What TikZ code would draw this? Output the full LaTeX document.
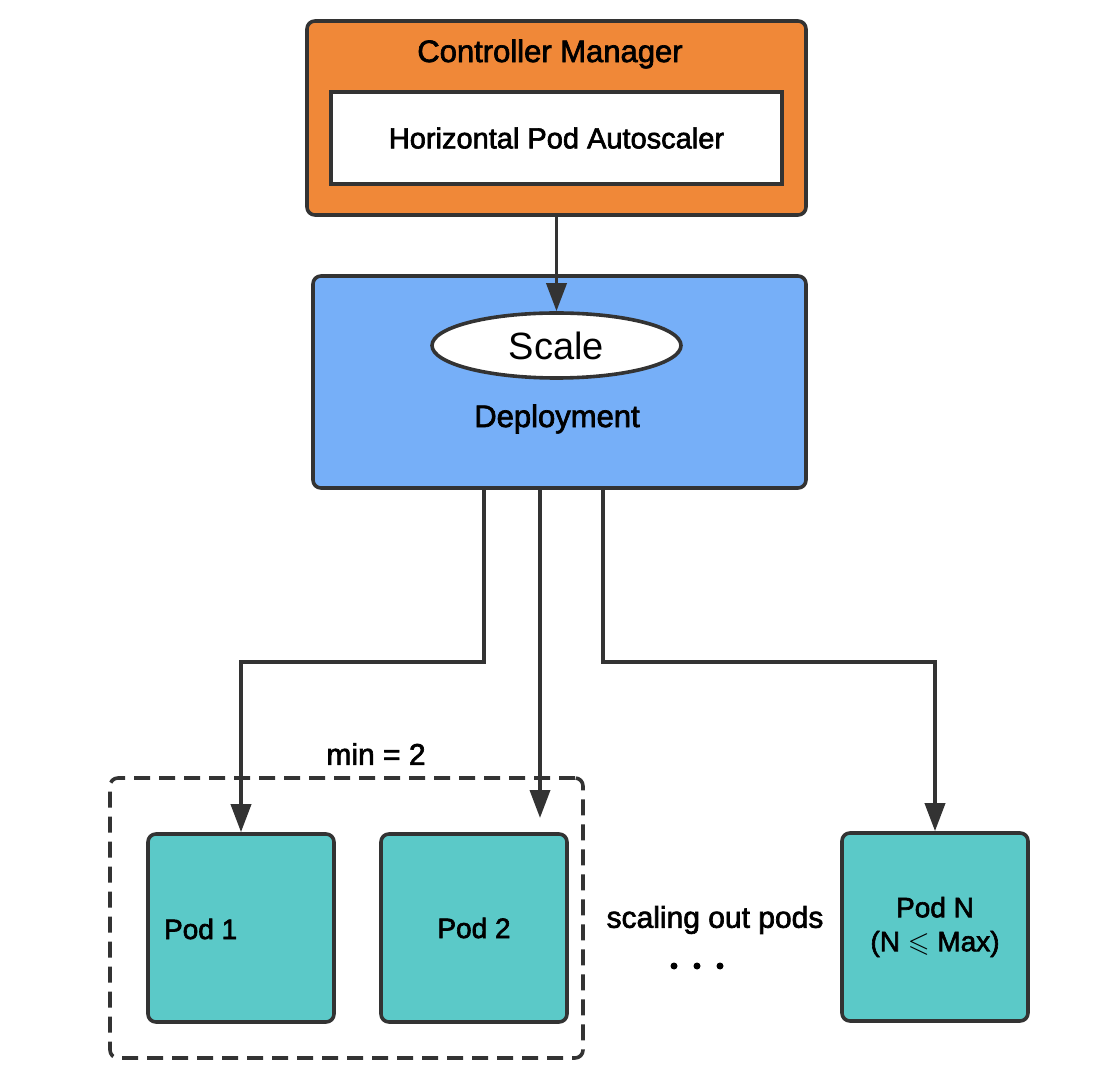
\documentclass[tikz,border=0pt]{standalone}
\usepackage{amssymb}
\usepackage{fontspec}
\setmainfont{Liberation Sans}
\newfontfamily\medfont[FakeBold=2.2]{Liberation Sans}
\usetikzlibrary{arrows.meta,shapes.geometric}

\definecolor{cmorange}{HTML}{F08838}
\definecolor{depblue}{HTML}{76AFF8}
\definecolor{podteal}{HTML}{5BC9C8}
\definecolor{edge}{HTML}{333333}

\begin{document}
\begin{tikzpicture}[x=0.5pt,y=-0.5pt,
        box/.style={draw=edge, line width=1.8pt, rounded corners=4pt, inner sep=0pt},
        pod/.style={box, fill=podteal, minimum width=93pt, minimum height=94pt},
        arr/.style={draw=edge, line width=1.85pt, -{Triangle[length=14pt,width=10pt]}},
        dot/.style={circle, fill=black, inner sep=0pt, minimum size=3.5pt}]
        \useasboundingbox (0,0) rectangle (1098,1074);

        % Controller Manager
        \node[box, fill=cmorange, minimum width=249.5pt, minimum height=97pt] (cm) at (556.5,118) {};
        \node[font=\medfont\fontsize{15.5}{18}\selectfont] (cmtitle) at (550,54) {Controller Manager};
        \node[draw=edge, line width=1.8pt, fill=white, inner sep=0pt, minimum width=225.5pt, minimum height=46pt,
              font=\medfont\fontsize{14.5}{18}\selectfont] (hpa) at (556.5,138) {Horizontal Pod Autoscaler};

        % Deployment
        \node[box, fill=depblue, minimum width=246.5pt, minimum height=106pt] (deploy) at (559.5,382) {};
        \node[ellipse, draw=edge, line width=1.8pt, fill=white, inner sep=0pt, minimum width=124.5pt, minimum height=32.5pt,
              font=\fontsize{19}{22}\selectfont] (scale) at (556.5,345.5) {Scale};
        \node[font=\medfont\fontsize{15.5}{18}\selectfont] (deplabel) at (557,419) {Deployment};

        % Pods
        \node[box, dashed, dash pattern=on 8pt off 4.5pt, minimum width=236.5pt, minimum height=140pt] (group) at (346.5,918) {};
        \node[font=\medfont\fontsize{15}{18}\selectfont] (minlabel) at (376,754) {min = 2};
        \node[pod] (pod1) at (241,928) {};
        \node[anchor=west, font=\medfont\fontsize{14}{17}\selectfont] (pod1label) at (157,929) {Pod 1};
        \node[pod, font=\medfont\fontsize{14}{17}\selectfont] (pod2) at (474,928) {Pod 2};
        \node[pod, align=center, font=\medfont\fontsize{14}{17}\selectfont] (podN) at (935,927) {Pod N\\(N $\leqslant$ Max)};

        \node[font=\medfont\fontsize{15}{18}\selectfont] (scaling) at (715,920) {scaling out pods};
        \foreach \i/\x in {1/674,2/697,3/720} \node[dot] (dot\i) at (\x,966) {};

        % Connectors
        \coordinate (end2) at (540,818);
        \draw[arr] (cm.south) -- (scale.north);
        \draw[arr] ([xshift=-37.75pt]deploy.south) -- ++(0,172) -| (pod1.north);
        \draw[arr] ([xshift=-9.75pt]deploy.south) -- (end2);
        \draw[arr] ([xshift=21.75pt]deploy.south) -- ++(0,172) -| (podN.north);
    \end{tikzpicture}
\end{document}
